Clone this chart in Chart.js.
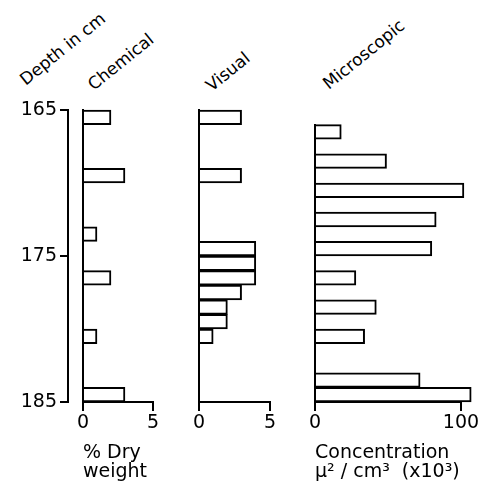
<!DOCTYPE html>
<html>
<head>
<meta charset="utf-8">
<script src="https://cdn.jsdelivr.net/npm/chart.js@4.4.0/dist/chart.umd.min.js"></script>
<style>
  body { margin: 0; background: #fff; }
  #wrap { position: relative; width: 487px; height: 496px; overflow: hidden; font-family: "DejaVu Sans", sans-serif; }
  canvas { position: absolute; top: 0; }
  .head { position: absolute; font-size: 17px; line-height: 17px; white-space: nowrap; color: #000;
          transform-origin: 0 14.4px; transform: rotate(-39deg); }
</style>
</head>
<body>
<div id="wrap">
  <div class="head" style="left:26px; top:72px">Depth in cm</div>
  <div class="head" style="left:94px; top:77px">Chemical</div>
  <div class="head" style="left:212px; top:78px">Visual</div>
  <div class="head" style="left:329px; top:76px">Microscopic</div>
  <canvas id="chem" style="left:0px" width="160" height="496"></canvas>
  <canvas id="vis" style="left:180px" width="100" height="496"></canvas>
  <canvas id="mic" style="left:290px" width="197" height="496"></canvas>
</div>
<script>
var FONT = "DejaVu Sans";

// depth scale (cm)
var depthTicks = [165, 175, 185];

// chemical: % dry weight
var chemDepth = [165.5, 169.5, 173.5, 176.5, 180.5, 184.5];
var chemValue = [2, 3, 1, 2, 1, 3];
var chemTicks = [0, 5];

// visual
var visDepth = [165.5, 169.5, 174.5, 175.5, 176.5, 177.5, 178.5, 179.5, 180.5];
var visValue = [3, 3, 4, 4, 4, 3, 2, 2, 1];
var visTicks = [0, 5];

// microscopic: concentration u2/cm3 (x10^3)
var micDepth = [166.5, 168.5, 170.5, 172.5, 174.5, 176.5, 178.5, 180.5, 183.5, 184.5];
var micValue = [18, 49, 102, 83, 80, 28, 42, 34, 72, 107];
var micTicks = [0, 100];

function toTicks(list) {
  return function(scale) {
    scale.ticks = list.map(function(v) { return {value: v}; });
  };
}

function panel(id, depth, value, xTicks, yMin, padding, xTitle, extraScales) {
  var points = [];
  for (var i = 0; i < depth.length; i++) {
    points.push({x: value[i], y: depth[i]});
  }
  var scales = {
    x: {
      type: "linear",
      min: xTicks[0],
      max: xTicks[xTicks.length - 1],
      z: 1,
      afterBuildTicks: toTicks(xTicks),
      afterFit: function(s) { s.height = 94; },
      grid: { display: true, drawOnChartArea: false, drawTicks: true, tickLength: 9, color: "#000", lineWidth: 2 },
      border: { display: true, color: "#000", width: 2 },
      ticks: { color: "#000", padding: 1, font: { family: FONT, size: 19 } },
      title: {
        display: !!xTitle,
        text: xTitle || "",
        align: "start",
        color: "#000",
        font: { family: FONT, size: 19, lineHeight: 1.0 },
        padding: { top: 0, bottom: 14 }
      }
    },
    y: {
      type: "linear",
      reverse: true,
      offset: false,
      min: yMin,
      max: depthTicks[depthTicks.length - 1],
      z: 1,
      afterFit: function(s) { s.width = extraScales ? 15 : 0; },
      grid: { display: false, offset: false },
      ticks: { display: false },
      border: { display: true, color: "#000", width: 2 }
    }
  };
  if (extraScales) {
    for (var k in extraScales) scales[k] = extraScales[k];
  }

  return new Chart(document.getElementById(id), {
    type: "bar",
    data: {
      datasets: [{
        data: points,
        backgroundColor: "#fff",
        borderColor: "#000",
        borderWidth: 2,
        borderSkipped: "start",
        barThickness: 14.6,
        clip: false
      }]
    },
    options: {
      indexAxis: "y",
      responsive: false,
      animation: false,
      layout: { padding: padding },
      plugins: { legend: { display: false }, tooltip: { enabled: false } },
      scales: scales
    }
  });
}

var depthAxis = {
  depth: {
    type: "linear",
    position: "left",
    weight: 1,
    reverse: true,
    offset: false,
    min: depthTicks[0],
    max: depthTicks[depthTicks.length - 1],
    afterBuildTicks: toTicks(depthTicks),
    afterFit: function(s) { s.width = 68; },
    grid: { display: true, offset: false, drawOnChartArea: false, drawTicks: true, tickLength: 8, color: "#000", lineWidth: 2 },
    border: { display: true, color: "#000", width: 2 },
    ticks: { color: "#000", padding: 3, font: { family: FONT, size: 19 } }
  }
};

panel("chem", chemDepth, chemValue, chemTicks, 165, { left: 0, top: 110, right: 7, bottom: 0 }, ["% Dry", "weight"], depthAxis);
panel("vis", visDepth, visValue, visTicks, 165, { left: 19, top: 110, right: 10, bottom: 0 }, null, null);
panel("mic", micDepth, micValue, micTicks, 166, { left: 25, top: 124.6, right: 26, bottom: 0 }, ["Concentration", "\u03bc\u00b2 / cm\u00b3  (x10\u00b3)"], null);
</script>
</body>
</html>
